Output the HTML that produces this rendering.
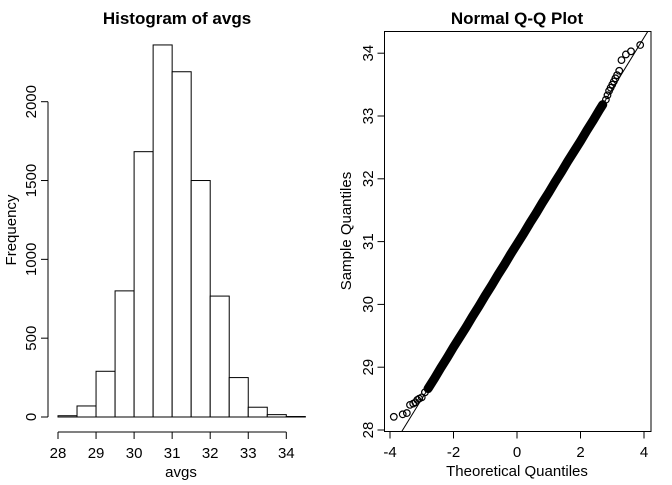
<!DOCTYPE html>
<html><head><meta charset="utf-8"><style>
body{margin:0;background:#fff;}
svg text{font-family:"Liberation Sans",Arial,sans-serif;fill:#000;}
</style></head><body>
<svg id="c" width="672" height="480" xmlns="http://www.w3.org/2000/svg"></svg>
<script>
const binStarts=[28,28.5,29,29.5,30,30.5,31,31.5,32,32.5,33,33.5,34];
const binCounts=[8,70,290,800,1683,2360,2190,1500,767,250,62,15,3];
const histXTicks=[28,29,30,31,32,33,34];
const histYTicks=[0,500,1000,1500,2000];
const qqTheo=[-3.88,-3.6,-3.47,-3.37,-3.27,-3.2,-3.14,-3.08,-3.0,-2.9,-2.8,-2.6,-2.4,-2.2,-2.0,-1.8,-1.6,-1.4,-1.2,-1.0,-0.8,-0.6,-0.4,-0.2,0,0.2,0.4,0.6,0.8,1.0,1.2,1.4,1.6,1.8,2.0,2.2,2.4,2.6,2.7,2.8,2.85,2.9,2.95,3.0,3.05,3.1,3.15,3.22,3.29,3.43,3.59,3.88];
const qqSample=[28.21,28.25,28.27,28.4,28.42,28.44,28.48,28.5,28.52,28.6,28.66,28.82,28.99,29.15,29.32,29.48,29.64,29.81,29.97,30.14,30.30,30.47,30.63,30.80,30.96,31.12,31.29,31.45,31.62,31.78,31.95,32.11,32.28,32.44,32.60,32.77,32.93,33.10,33.18,33.26,33.33,33.4,33.45,33.5,33.55,33.6,33.65,33.72,33.89,33.98,34.03,34.13];
const qqXTicks=[-4,-2,0,2,4];
const qqYTicks=[28,29,30,31,32,33,34];
const qqLine=[30.96,0.822];

const NS="http://www.w3.org/2000/svg";
const svg=document.getElementById('c');
function mk(tag,attrs,parent){const e=document.createElementNS(NS,tag);for(const k in attrs)e.setAttribute(k,attrs[k]);(parent||svg).appendChild(e);return e;}
function txt(s,attrs){const t=mk('text',attrs);t.textContent=s;return t;}

// Histogram
const hx=v=>58+(v-28)*38.05;
const hy=v=>417-v*0.15765;
let t=txt('Histogram of avgs',{x:177,y:24,'text-anchor':'middle','font-size':17,'font-weight':'bold'});


binStarts.forEach((b,i)=>{
  const r=mk('rect',{x:hx(b),y:hy(binCounts[i]),width:hx(b+0.5)-hx(b),height:hy(0)-hy(binCounts[i]),fill:'#fff',stroke:'#000','stroke-width':1});
  
  
});
let ax=mk('line',{x1:hx(28),x2:hx(34),y1:432,y2:432,stroke:'#000'});


histXTicks.forEach(v=>{
  mk('line',{x1:hx(v),x2:hx(v),y1:432,y2:439,stroke:'#000'});
  const l=txt(String(v),{x:hx(v),y:458,'text-anchor':'middle','font-size':15});
  
  
});
let ay=mk('line',{x1:48,x2:48,y1:hy(0),y2:hy(2000),stroke:'#000'});


histYTicks.forEach(v=>{
  mk('line',{x1:41,x2:48,y1:hy(v),y2:hy(v),stroke:'#000'});
  const l=txt(String(v),{x:0,y:0,'text-anchor':'middle','font-size':15,transform:`translate(36,${hy(v)}) rotate(-90)`});
  
  
});
t=txt('avgs',{x:181,y:477,'text-anchor':'middle','font-size':15});


t=txt('Frequency',{x:0,y:0,'text-anchor':'middle','font-size':15,transform:'translate(16,230) rotate(-90)'});



// QQ plot
const qx=v=>517+v*31.75;
const qy=v=>430-(v-28)*62.8;
t=txt('Normal Q-Q Plot',{x:517,y:24,'text-anchor':'middle','font-size':17,'font-weight':'bold'});


const box=mk('rect',{x:384.5,y:31.5,width:266.5,height:400,fill:'none',stroke:'#000'});


const cp=mk('clipPath',{id:'qc'});mk('rect',{x:384.5,y:31.5,width:266.5,height:400},cp);
const ln=mk('line',{x1:qx(-4.5),y1:qy(qqLine[0]-4.5*qqLine[1]),x2:qx(4.5),y2:qy(qqLine[0]+4.5*qqLine[1]),stroke:'#000','stroke-width':1,'clip-path':'url(#qc)'});


const band=qqTheo.map((v,i)=>[v,qqSample[i]]).filter(p=>p[0]>=-2.8&&p[0]<=2.7);
const bp=mk('polyline',{points:band.map(p=>qx(p[0])+','+qy(p[1])).join(' '),fill:'none',stroke:'#000','stroke-width':9,'stroke-linecap':'round'});


qqTheo.forEach((v,i)=>{
  const c=mk('circle',{cx:qx(v),cy:qy(qqSample[i]),r:3.3,fill:'none',stroke:'#000','stroke-width':1.2});
  
  
});
qqXTicks.forEach(v=>{
  mk('line',{x1:qx(v),x2:qx(v),y1:431.5,y2:438.5,stroke:'#000'});
  const l=txt(String(v),{x:qx(v),y:457,'text-anchor':'middle','font-size':15});
  
  
});
qqYTicks.forEach(v=>{
  mk('line',{x1:377.5,x2:384.5,y1:qy(v),y2:qy(v),stroke:'#000'});
  const l=txt(String(v),{x:0,y:0,'text-anchor':'middle','font-size':15,transform:`translate(373,${qy(v)}) rotate(-90)`});
  
  
});
t=txt('Theoretical Quantiles',{x:517,y:476,'text-anchor':'middle','font-size':15});


t=txt('Sample Quantiles',{x:0,y:0,'text-anchor':'middle','font-size':15,transform:'translate(351,231) rotate(-90)'});


</script>
</body></html>
